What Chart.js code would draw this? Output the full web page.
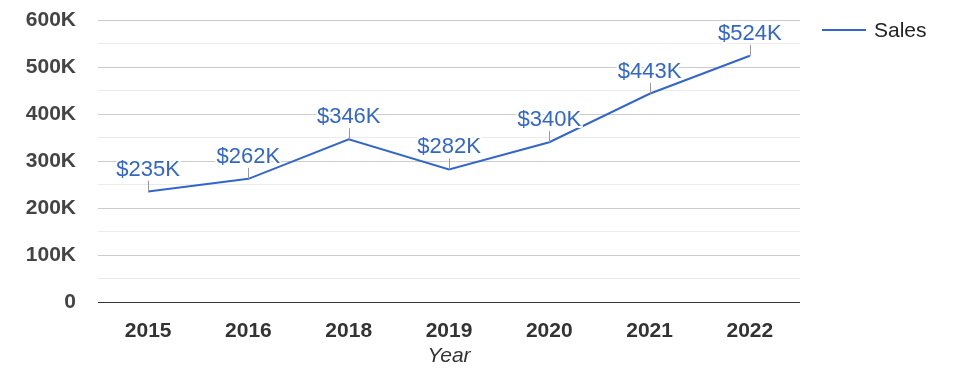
<!DOCTYPE html>
<html>
<head>
<meta charset="utf-8">
<script src="https://cdn.jsdelivr.net/npm/chart.js@4"></script>
<style>
  html, body { margin: 0; padding: 0; background: #fff; }
  #wrap { width: 975px; height: 378px; position: relative; }
</style>
</head>
<body>
<div id="wrap"><canvas id="chart"></canvas></div>
<script>
const years = ['2015', '2016', '2018', '2019', '2020', '2021', '2022'];
const sales = [235000, 262000, 346000, 282000, 340000, 443000, 524000];
const seriesName = 'Sales';
const axisTitle = 'Year';

const blue = '#3366cc';
const fontFamily = 'Arial, "Liberation Sans", sans-serif';

function fmtK(v) {
  return v === 0 ? '0' : (v / 1000) + 'K';
}

// stems + value labels above each point, google-charts style
const annotations = {
  id: 'annotations',
  afterDatasetsDraw(chart) {
    const ctx = chart.ctx;
    const meta = chart.getDatasetMeta(0);
    ctx.save();
    ctx.font = '22px ' + fontFamily;
    ctx.textAlign = 'center';
    ctx.textBaseline = 'alphabetic';
    meta.data.forEach((pt, i) => {
      const x = Math.round(pt.x) + 0.5;
      ctx.strokeStyle = '#999';
      ctx.lineWidth = 1;
      ctx.beginPath();
      ctx.moveTo(x, pt.y);
      ctx.lineTo(x, pt.y - 11);
      ctx.stroke();
      const txt = '$' + (sales[i] / 1000) + 'K';
      ctx.lineWidth = 4;
      ctx.strokeStyle = '#fff';
      ctx.lineJoin = 'round';
      ctx.strokeText(txt, pt.x, pt.y - 16);
      ctx.fillStyle = blue;
      ctx.fillText(txt, pt.x, pt.y - 16);
    });
    ctx.restore();
  }
};

const sideLegend = {
  id: 'sideLegend',
  afterDraw(chart) {
    const ctx = chart.ctx;
    const x = chart.chartArea.right + 22;
    const y = 30;
    ctx.save();
    ctx.strokeStyle = blue;
    ctx.lineWidth = 2;
    ctx.beginPath();
    ctx.moveTo(x, y);
    ctx.lineTo(x + 44, y);
    ctx.stroke();
    ctx.fillStyle = '#222';
    ctx.font = '21px ' + fontFamily;
    ctx.textBaseline = 'middle';
    ctx.fillText(seriesName, x + 52, y + 1);
    ctx.restore();
  }
};

new Chart(document.getElementById('chart'), {
  type: 'line',
  data: {
    labels: years,
    datasets: [{
      label: seriesName,
      data: sales,
      borderColor: blue,
      borderWidth: 2,
      pointRadius: 0,
      tension: 0,
      fill: false
    }]
  },
  options: {
    responsive: true,
    maintainAspectRatio: false,
    animation: false,
    layout: { padding: { left: 0, right: 175, top: 20, bottom: 0 } },
    plugins: {
      legend: { display: false },
      tooltip: { enabled: false }
    },
    scales: {
      x: {
        offset: true,
        grid: { display: false },
        border: { display: false },
        ticks: {
          color: '#333',
          padding: 9,
          maxRotation: 0,
          font: { family: fontFamily, size: 21, weight: 'bold' }
        },
        title: {
          display: true,
          text: axisTitle,
          color: '#333',
          padding: { top: 4, bottom: 9 },
          font: { family: fontFamily, size: 21, style: 'italic' }
        },
        afterFit(scale) {
          scale.height = 76;
          scale.paddingLeft = 0;
          scale.paddingRight = 0;
        }
      },
      y: {
        min: 0,
        max: 600000,
        border: { display: false },
        grid: {
          drawTicks: false,
          color: (c) => {
            const v = c.tick.value;
            if (v === 0) return '#333';
            return v % 100000 === 0 ? '#cccccc' : '#ebebeb';
          },
          lineWidth: 1
        },
        ticks: {
          stepSize: 50000,
          autoSkip: false,
          padding: 22,
          color: '#444',
          font: { family: fontFamily, size: 21, weight: 'bold' },
          callback: (v) => v % 100000 === 0 ? fmtK(v) : ''
        },
        afterFit(scale) {
          scale.width = 98;
          scale.paddingTop = 0;
          scale.paddingBottom = 0;
        }
      }
    }
  },
  plugins: [annotations, sideLegend]
});
</script>
</body>
</html>
